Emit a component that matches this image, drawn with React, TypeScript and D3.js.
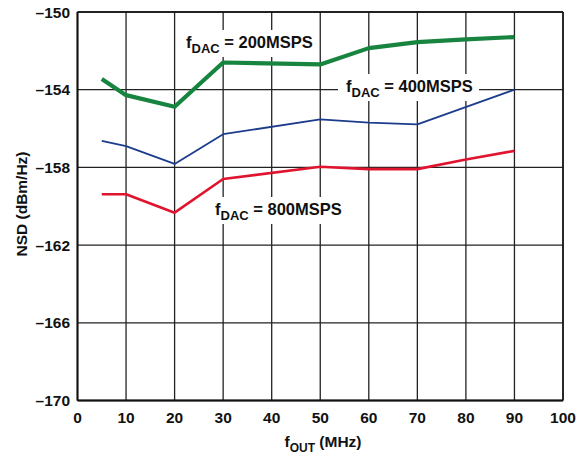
import React from "react";
import * as d3 from "d3";

const xTicks = [0, 10, 20, 30, 40, 50, 60, 70, 80, 90, 100];
const yTicks = [-150, -154, -158, -162, -166, -170];

const x200 = [5, 10, 20, 30, 50, 60, 70, 80, 90];
const y200 = [-153.45, -154.28, -154.88, -152.6, -152.7, -151.86, -151.55, -151.41, -151.29];

const x400 = [5, 10, 20, 30, 50, 60, 70, 90];
const y400 = [-156.63, -156.9, -157.82, -156.29, -155.53, -155.69, -155.79, -154.0];

const x800 = [5, 10, 20, 30, 50, 60, 70, 80, 90];
const y800 = [-159.38, -159.38, -160.33, -158.6, -157.97, -158.09, -158.09, -157.59, -157.15];

const W = 582, H = 462;
const L = 77.5, R = 563, T = 12, B = 400.5;

export default function App() {
  const x = d3.scaleLinear().domain([0, 100]).range([L, R]);
  const y = d3.scaleLinear().domain([-170, -150]).range([B, T]);
  const line = d3.line<[number, number]>().x(d => x(d[0])).y(d => y(d[1]));
  const pts = (xs: number[], ys: number[]) => xs.map((v, i) => [v, ys[i]] as [number, number]);
  const font = "'Liberation Sans', Arial, Helvetica, sans-serif";

  const Label = ({ lx, ly, val, bg }: { lx: number; ly: number; val: string; bg: [number, number, number, number] }) => (
    <g>
      <rect x={bg[0]} y={bg[1]} width={bg[2]} height={bg[3]} fill="white" />
      <text x={lx} y={ly} fontFamily={font} fontWeight="bold" fontSize={16.5} fill="#111">
        f<tspan fontSize={13} dy={4.5}>DAC</tspan><tspan dy={-4.5}> = {val}MSPS</tspan>
      </text>
    </g>
  );

  return (
    <svg width={W} height={H} style={{ position: "absolute", left: 0, top: 0, background: "white" }}>
      {yTicks.map(t => (
        <line key={"gy" + t} x1={L} x2={R} y1={y(t)} y2={y(t)} stroke="#222" strokeWidth={1.3} />
      ))}
      {xTicks.map(t => (
        <line key={"gx" + t} x1={x(t)} x2={x(t)} y1={T} y2={B} stroke="#222" strokeWidth={1.3} />
      ))}
      <Label lx={186} ly={48} val="200" bg={[182, 30, 136, 27]} />
      <Label lx={346} ly={92} val="400" bg={[338, 74, 141, 27]} />
      <Label lx={215} ly={215} val="800" bg={[208, 197, 140, 27]} />
      <path d={line(pts(x400, y400))!} fill="none" stroke="#1c3c8c" strokeWidth={1.8} strokeLinejoin="round" />
      <path d={line(pts(x800, y800))!} fill="none" stroke="#e0142e" strokeWidth={2.6} strokeLinejoin="round" />
      <path d={line(pts(x200, y200))!} fill="none" stroke="#17843f" strokeWidth={4.2} strokeLinejoin="round" />
      <line x1={L} x2={L} y1={T} y2={B} stroke="#111" strokeWidth={2} />
      <line x1={L} x2={R} y1={B} y2={B} stroke="#111" strokeWidth={2} />
      <line x1={R} x2={R} y1={T} y2={B} stroke="#111" strokeWidth={1.5} />
      <line x1={L} x2={R} y1={T} y2={T} stroke="#111" strokeWidth={1.5} />
      {yTicks.map(t => (
        <text key={"ty" + t} x={70} y={y(t) + 5.5} textAnchor="end" fontFamily={font} fontWeight="bold" fontSize={15.5} fill="#111">
          {"\u2013" + Math.abs(t)}
        </text>
      ))}
      {xTicks.map(t => (
        <text key={"tx" + t} x={x(t)} y={423} textAnchor="middle" fontFamily={font} fontWeight="bold" fontSize={15.5} fill="#111">
          {t}
        </text>
      ))}
      <text x={323} y={447} textAnchor="middle" fontFamily={font} fontWeight="bold" fontSize={15.5} fill="#111">
        f<tspan fontSize={12} dy={5}>OUT</tspan><tspan dy={-5}> (MHz)</tspan>
      </text>
      <text transform="translate(27,204) rotate(-90)" textAnchor="middle" fontFamily={font} fontWeight="bold" fontSize={15.5} fill="#111">
        NSD (dBm/Hz)
      </text>
    </svg>
  );
}
